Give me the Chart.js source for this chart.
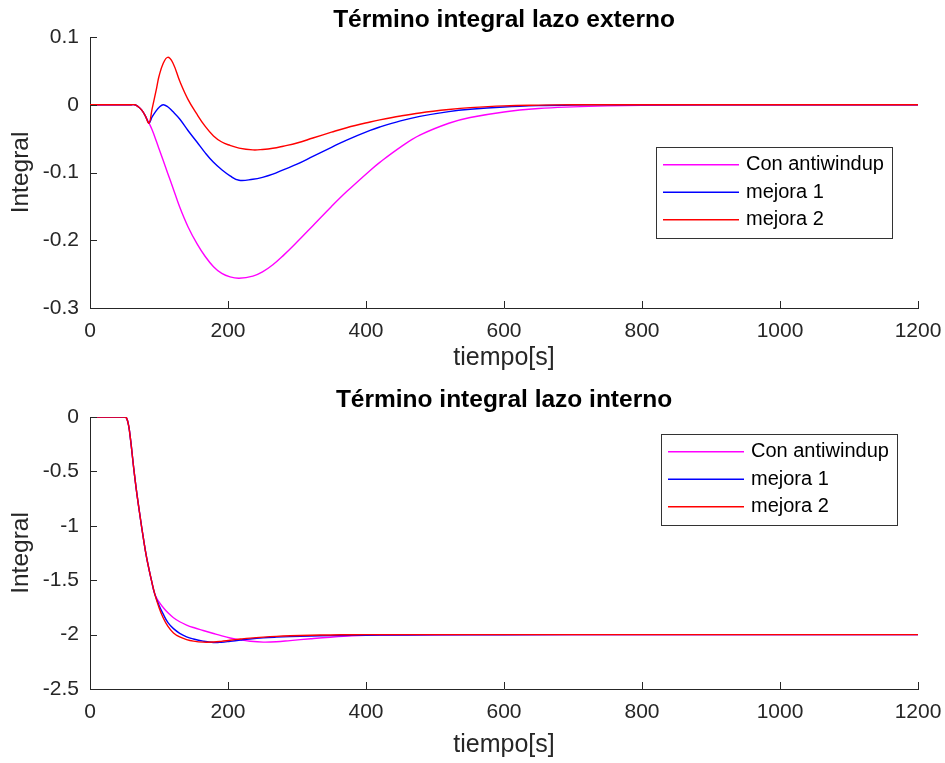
<!DOCTYPE html>
<html>
<head>
<meta charset="utf-8">
<title>Término integral</title>
<script src="https://cdn.jsdelivr.net/npm/chart.js@4.4.0/dist/chart.umd.min.js"></script>
<style>
  body { margin: 0; background: #fff; }
  canvas { position: absolute; left: 0; }
</style>
</head>
<body>
<canvas id="chartExt" width="945" height="381" style="top:0"></canvas>
<canvas id="chartInt" width="945" height="383" style="top:380px"></canvas>
<script>
// ---- datos ----
const labels = ['Con antiwindup', 'mejora 1', 'mejora 2'];
const colores = ['#FF00FF', '#0000FF', '#FF0000'];
const xTicks = [0, 200, 400, 600, 800, 1000, 1200];
const yTicksExt = [0.1, 0, -0.1, -0.2, -0.3];
const yTicksInt = [0, -0.5, -1, -1.5, -2, -2.5];

// lazo externo
const tExt = [0, 60, 65, 70, 75, 80, 85.5, 90, 96.6, 100, 106, 112.6, 120, 130, 142, 155, 167, 179, 191, 203,
  216, 236, 250, 265, 280, 300, 323, 350, 372, 406, 420, 450, 478, 520, 551, 600, 650, 700, 750, 800, 900, 1000, 1200];
const extAntiwindup = [0, 0, 0, -0.003, -0.008, -0.016, -0.027, -0.037, -0.055, -0.065, -0.082, -0.101, -0.122, -0.151, -0.180, -0.205, -0.224, -0.239, -0.249, -0.254,
  -0.256, -0.253, -0.2467, -0.2362, -0.2227, -0.2027, -0.1786, -0.1502, -0.1282, -0.0969, -0.0850, -0.0625, -0.0449, -0.0273, -0.0189, -0.0106, -0.0056, -0.0031, -0.0016, -0.0008, -0.0002, 0, 0];
const extMejora1 = [0, 0, 0, -0.003, -0.008, -0.016, -0.027, -0.018, -0.008, -0.004, 0.000, -0.003, -0.010, -0.021, -0.038, -0.055, -0.071, -0.085, -0.096, -0.105,
  -0.1115, -0.1099, -0.1071, -0.1025, -0.0960, -0.0878, -0.0763, -0.0628, -0.0522, -0.0379, -0.0329, -0.0239, -0.0172, -0.0101, -0.0067, -0.0033, -0.0013, -0.0003, 0, 0, 0, 0, 0];
const extMejora2 = [0, 0, 0, -0.003, -0.008, -0.016, -0.027, -0.006, 0.025, 0.042, 0.061, 0.070, 0.062, 0.035, 0.008, -0.014, -0.032, -0.046, -0.055, -0.060,
  -0.064, -0.0666, -0.0660, -0.0643, -0.0612, -0.0565, -0.0491, -0.0405, -0.0339, -0.0254, -0.0223, -0.0166, -0.0121, -0.0071, -0.0043, -0.0016, -0.0005, 0, 0, 0, 0, 0, 0];

// lazo interno
const tInt = [0, 50, 53, 56, 59, 63, 67, 72.5, 77, 82, 89, 94, 100, 106, 113, 121, 130, 140, 150, 164,
  179, 190, 203, 218, 232, 251, 270, 290, 320, 348, 380, 420, 500, 600, 800, 1200];
const intAntiwindup = [0, 0, -0.01, -0.08, -0.22, -0.45, -0.66, -0.91, -1.10, -1.29, -1.50, -1.63, -1.70, -1.75, -1.80, -1.845, -1.882, -1.912, -1.935, -1.962,
  -1.990, -2.010, -2.031, -2.049, -2.061, -2.069, -2.066, -2.055, -2.038, -2.024, -2.012, -2.005, -2.001, -2.0, -2.0, -2.0];
const intMejora1 = [0, 0, -0.01, -0.08, -0.22, -0.45, -0.66, -0.91, -1.10, -1.29, -1.50, -1.63, -1.73, -1.81, -1.89, -1.945, -1.988, -2.020, -2.040, -2.060,
  -2.073, -2.071, -2.062, -2.050, -2.040, -2.030, -2.0235, -2.0185, -2.013, -2.0097, -2.007, -2.005, -2.0026, -2.001, -2.0, -2.0];
const intMejora2 = [0, 0, -0.01, -0.08, -0.22, -0.45, -0.66, -0.91, -1.10, -1.29, -1.50, -1.63, -1.75, -1.845, -1.925, -1.985, -2.022, -2.046, -2.060, -2.069,
  -2.068, -2.062, -2.052, -2.041, -2.032, -2.023, -2.016, -2.011, -2.006, -2.003, -2.001, -2.0, -2.0, -2.0, -2.0, -2.0];

const fuente = '"Liberation Sans", Arial, Helvetica, sans-serif';
const gris = '#262626';

// marcas de los ejes hacia adentro, como en MATLAB
const marcasDentro = {
  id: 'marcasDentro',
  afterDatasetsDraw(chart) {
    const {ctx, chartArea} = chart;
    const sx = chart.scales.x, sy = chart.scales.y;
    ctx.save();
    ctx.strokeStyle = gris;
    ctx.lineWidth = 1;
    ctx.beginPath();
    sx.ticks.forEach(t => {
      const px = Math.round(sx.getPixelForValue(t.value)) + 0.5;
      ctx.moveTo(px, chartArea.bottom);
      ctx.lineTo(px, chartArea.bottom - 7);
    });
    sy.ticks.forEach(t => {
      const py = Math.round(sy.getPixelForValue(t.value)) + 0.5;
      ctx.moveTo(chartArea.left, py);
      ctx.lineTo(chartArea.left + 7, py);
    });
    ctx.stroke();
    ctx.restore();
  }
};

// leyenda dentro de los ejes
const leyenda = {
  id: 'leyenda',
  afterDatasetsDraw(chart, args, opts) {
    const {ctx, chartArea} = chart;
    const sets = chart.data.datasets;
    ctx.save();
    ctx.font = '20px ' + fuente;
    const textW = Math.max(...sets.map(d => ctx.measureText(d.label).width));
    const rowH = 27.5;
    const w = Math.round(90 + textW + 8);
    const h = Math.round(rowH * sets.length + 8);
    const x0 = Math.round(chartArea.right - opts.right - w);
    const y0 = Math.round(chartArea.top + opts.top);
    ctx.fillStyle = '#fff';
    ctx.fillRect(x0, y0, w, h);
    ctx.strokeStyle = '#333';
    ctx.lineWidth = 1;
    ctx.strokeRect(x0 + 0.5, y0 + 0.5, w, h);
    sets.forEach((d, i) => {
      const cy = y0 + 4 + rowH * (i + 0.5);
      ctx.strokeStyle = d.borderColor;
      ctx.lineWidth = d.borderWidth;
      ctx.beginPath();
      ctx.moveTo(x0 + 7, cy);
      ctx.lineTo(x0 + 83, cy);
      ctx.stroke();
      ctx.fillStyle = '#000';
      ctx.textBaseline = 'middle';
      ctx.fillText(d.label, x0 + 90, cy);
    });
    ctx.restore();
  }
};

function series(t, ys) {
  return ys.map((y, k) => ({
    label: labels[k],
    data: t.map((v, i) => ({x: v, y: y[i]})),
    borderColor: colores[k],
    borderWidth: 1.4,
    pointRadius: 0,
    fill: false,
    tension: 0.4,
    order: 2 - k
  }));
}

function crear(id, titulo, t, ys, yTicks, yMin, yMax, xAlto, xTituloPad, posLeyenda) {
  return new Chart(document.getElementById(id), {
    type: 'line',
    data: {datasets: series(t, ys)},
    plugins: [marcasDentro, leyenda],
    options: {
      responsive: false,
      animation: false,
      devicePixelRatio: 1,
      layout: {padding: {top: 6, right: 27, left: 0, bottom: 0}},
      plugins: {
        legend: {display: false},
        tooltip: {enabled: false},
        title: {
          display: true, text: titulo, color: '#000', fullSize: false,
          font: {family: fuente, size: 24.5, weight: 'bold'},
          padding: {top: 0, bottom: 1.6}
        },
        leyenda: posLeyenda
      },
      scales: {
        x: {
          type: 'linear', min: 0, max: 1200,
          afterBuildTicks: s => { s.ticks = xTicks.map(v => ({value: v})); },
          afterFit: s => { s.height = xAlto; s.paddingLeft = 0; s.paddingRight = 0; },
          grid: {display: false, drawTicks: false},
          border: {display: true, color: gris, width: 1},
          ticks: {color: gris, font: {family: fuente, size: 21}, padding: 11, maxRotation: 0,
            callback: v => String(v)},
          title: {display: true, text: 'tiempo[s]', color: gris,
            font: {family: fuente, size: 25}, padding: {top: 0, bottom: xTituloPad}}
        },
        y: {
          min: yMin, max: yMax,
          afterBuildTicks: s => { s.ticks = yTicks.map(v => ({value: v})); },
          afterFit: s => { s.width = 90; },
          grid: {display: false, drawTicks: false},
          border: {display: true, color: gris, width: 1},
          ticks: {color: gris, font: {family: fuente, size: 21}, padding: 11,
            callback: v => String(v)},
          title: {display: true, text: 'Integral', color: gris,
            font: {family: fuente, size: 24.5}, padding: {top: 6.3, bottom: 0}}
        }
      }
    }
  });
}

crear('chartExt', 'Término integral lazo externo', tExt,
  [extAntiwindup, extMejora1, extMejora2], yTicksExt, -0.3, 0.1, 73, 8, {right: 26, top: 110});
crear('chartInt', 'Término integral lazo interno', tInt,
  [intAntiwindup, intMejora1, intMejora2], yTicksInt, -2.5, 0, 74, 3, {right: 21, top: 17});
</script>
</body>
</html>
